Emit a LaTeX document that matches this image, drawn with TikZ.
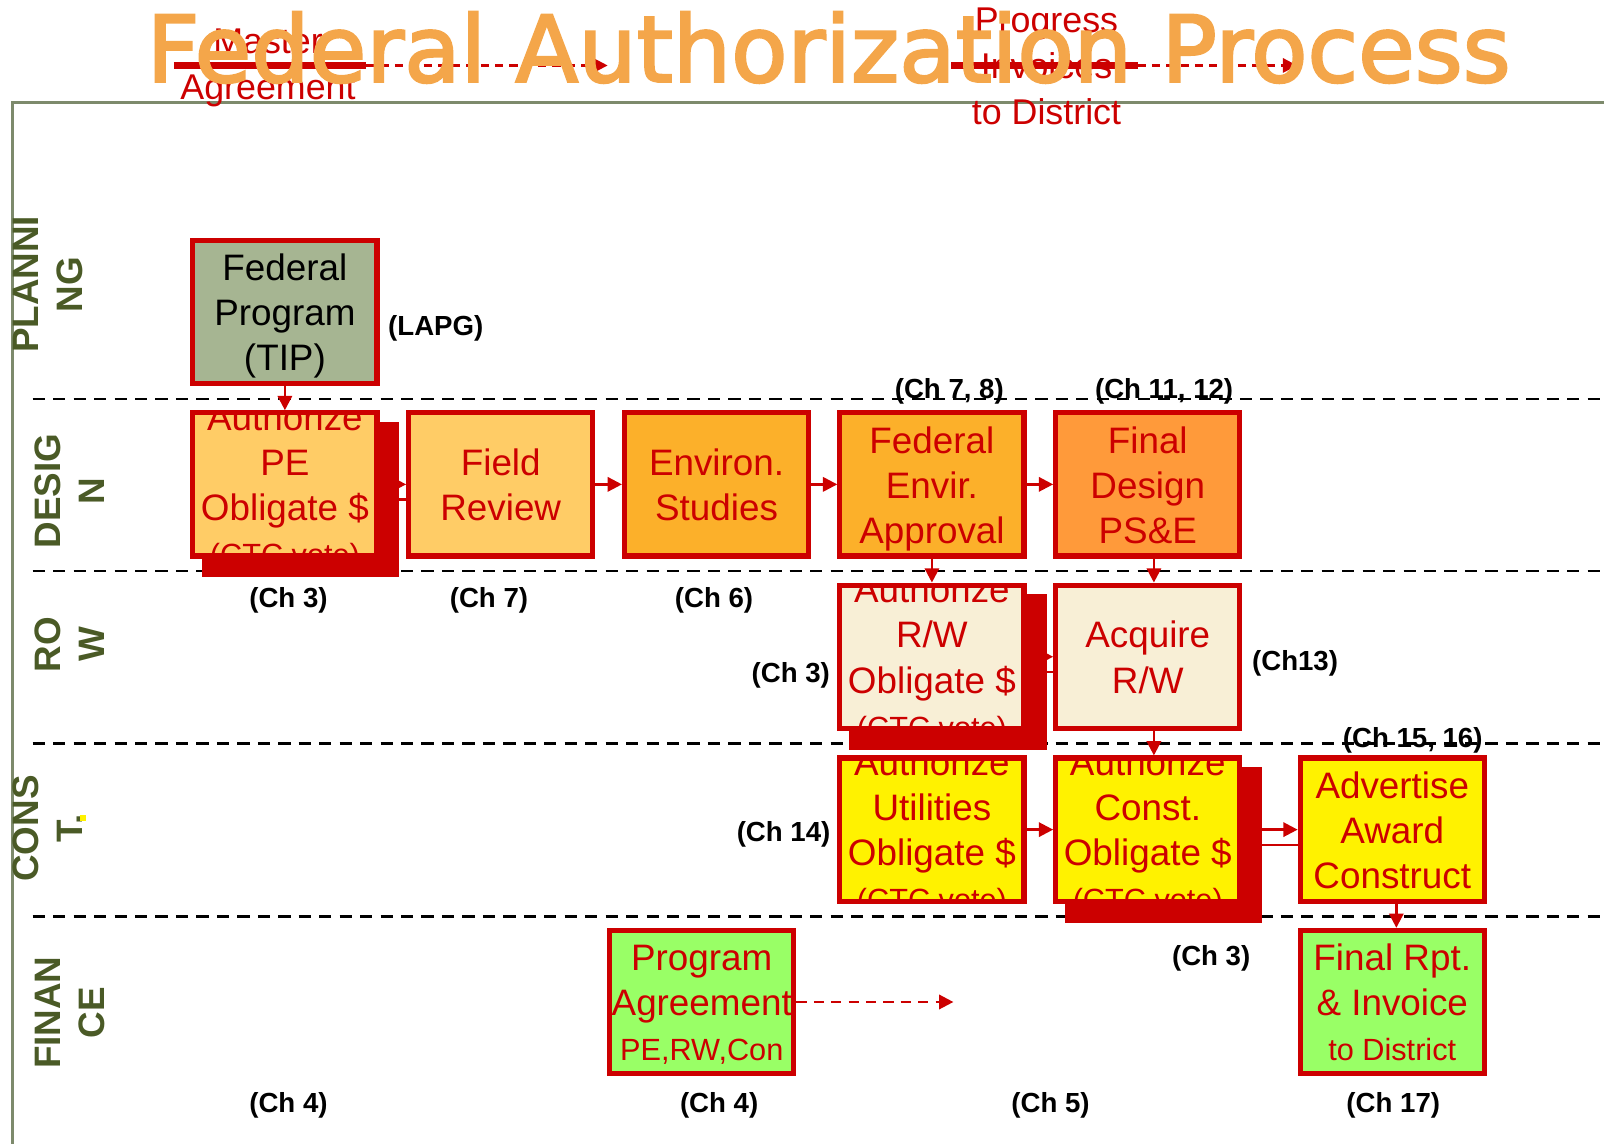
\documentclass[tikz,border=0pt]{standalone}
\usepackage{fontspec}
\setmainfont{Liberation Sans}
\newfontfamily\titlefont[FakeBold=2.5]{DejaVu Sans}
\usepackage{tikz}
\usepackage{xcolor}
\usetikzlibrary{calc}
\usetikzlibrary{arrows.meta}

\definecolor{boxred}{HTML}{CC0000}
\definecolor{sage}{HTML}{A6B592}
\definecolor{peach}{HTML}{FFCC66}
\definecolor{amber}{HTML}{FCB02A}
\definecolor{tangerine}{HTML}{FF9A3A}
\definecolor{cream}{HTML}{F8EFD6}
\definecolor{lime}{HTML}{99FF66}
\definecolor{olive}{HTML}{4A5A26}
\definecolor{framegreen}{HTML}{7D8A6C}
\definecolor{titleorange}{HTML}{F4A64A}

\pgfdeclarelayer{lanes}
\pgfdeclarelayer{shade}
\pgfsetlayers{lanes,shade,main}

\begin{document}
\begin{tikzpicture}[x=0.5pt, y=-0.5pt]

\tikzset{
    box/.style n args = {2}{
    draw=boxred, line width=2.5pt, inner sep=0pt,
    minimum width=90pt, minimum height=70pt,
    path picture={\node[boxtext, text=#1] at (path picture bounding box.center) {#2};}
    },
    boxtext/.style = {draw=none, fill=none, inner sep=0pt, align=center, yshift=-3.5pt,
    execute at begin node=\strut, execute at end node=\strut,
    font=\fontsize{18}{22}\selectfont}
}

\tikzstyle{lane}=[rotate=90, align=center, text=olive, font=\bfseries\fontsize{18}{21.5}\selectfont]
\tikzstyle{chap}=[yshift=-1.5pt, font=\bfseries\fontsize{13.5}{16}\selectfont]
\tikzstyle{topnote}=[align=center, text=boxred, font=\fontsize{17.5}{22.5}\selectfont]
\tikzstyle{arr}=[draw=boxred, line width=1.2pt, -{Triangle[length=7pt,width=7pt]}]
\tikzstyle{link}=[draw=boxred, line width=1.2pt]

\useasboundingbox (0,0) rectangle (1568,1118);

% lanes
\begin{pgfonlayer}{lanes}
\foreach \y in {390,558,727,896}
    \draw[black, line width=1.25pt, dash pattern=on 6pt off 4pt] (32,\y) -- (1568,\y);
\end{pgfonlayer}

\draw[framegreen, line width=1.5pt] (1568,100) -- (12,100) -- (12,1118);

\node (l-plan) [lane] at (47,278) {PLANNI\\NG};
\node (l-des) [lane] at (68,480) {DESIG\\N};
\node (l-row) [lane] at (68,630) {RO\\W};
\node (l-con) [lane] at (47,810) {CONS\\T.};
\node (l-fin) [lane] at (68,990) {FINAN\\CE};
\fill[yellow] (78,797) rectangle (84,803);

% boxes
\node (tip) [box={black}{Federal\\Program\\(TIP)}, fill=sage] at (278.5,305) {};

\node (pe) [box={boxred}{Authorize\\PE\\Obligate \$\\{\fontsize{15}{18}\selectfont (CTC vote)}}, fill=peach] at (278.5,473.5) {};
\node (fr) [box={boxred}{Field\\Review}, fill=peach] at (489.5,473.5) {};
\node (env) [box={boxred}{Environ.\\Studies}, fill=amber] at (700.5,473.5) {};
\node (fed) [box={boxred}{Federal\\Envir.\\Approval}, fill=amber] at (911,473.5) {};
\node (fin) [box={boxred}{Final\\Design\\PS\&E}, fill=tangerine] at (1122,473.5) {};

\node (rw) [box={boxred}{Authorize\\R/W\\Obligate \$\\{\fontsize{15}{18}\selectfont (CTC vote)}}, fill=cream] at (911,642) {};
\node (acq) [box={boxred}{Acquire\\R/W}, fill=cream] at (1122,642) {};

\node (util) [box={boxred}{Authorize\\Utilities\\Obligate \$\\{\fontsize{15}{18}\selectfont (CTC vote)}}, fill=yellow] at (911,811) {};
\node (con) [box={boxred}{Authorize\\Const.\\Obligate \$\\{\fontsize{15}{18}\selectfont (CTC vote)}}, fill=yellow] at (1122,811) {};
\node (adv) [box={boxred}{Advertise\\Award\\Construct}, fill=yellow] at (1361,811) {};

\node (pa) [box={boxred}{Program\\Agreement\\{\fontsize{15}{18}\selectfont PE,RW,Con}}, fill=lime] at (686,979.5) {};
\node (rpt) [box={boxred}{Final Rpt.\\\& Invoice\\{\fontsize{15}{18}\selectfont to District}}, fill=lime] at (1361,979.5) {};

\begin{pgfonlayer}{shade}
\foreach \b in {pe,rw,con}
    \fill[boxred] ([shift={(11.5,11.5)}]\b.north west) rectangle ([shift={(19.5,18.5)}]\b.south east);
\end{pgfonlayer}

% connectors
\draw[arr] (tip.south) -- (pe.north);
\draw[arr] ([shift={(19.5,0)}]pe.east) -- (fr.west);
\draw[link] ([shift={(19.5,15)}]pe.east) -- ([shift={(0,15)}]fr.west);
\draw[arr] (fr.east) -- (env.west);
\draw[arr] (env.east) -- (fed.west);
\draw[arr] (fed.east) -- (fin.west);
\draw[arr] (fed.south) -- (rw.north);
\draw[arr] ([shift={(6,0)}]fin.south) -- ([shift={(6,0)}]acq.north);
\draw[arr] ([shift={(19.5,0)}]rw.east) -- (acq.west);
\draw[link] ([shift={(19.5,15)}]rw.east) -- ([shift={(0,15)}]acq.west);
\draw[arr] ([shift={(6,0)}]acq.south) -- ([shift={(6,0)}]con.north);
\draw[arr] (util.east) -- (con.west);
\draw[arr] ([shift={(19.5,0)}]con.east) -- (adv.west);
\draw[link] ([shift={(19.5,15)}]con.east) -- ([shift={(0,15)}]adv.west);
\draw[arr] ([shift={(4,0)}]adv.south) -- ([shift={(4,0)}]rpt.north);
\coordinate (pa-end) at (932,979.5);
\draw[arr, dash pattern=on 5pt off 3.5pt] (pa.east) -- (pa-end);

% chapters
\node (c-lapg) [chap] at (426,318) {(LAPG)};
\node (c-78) [chap] at (928,380) {(Ch 7, 8)};
\node (c-1112) [chap] at (1138,380) {(Ch 11, 12)};
\node (c-pe) [chap] at (282,584) {(Ch 3)};
\node (c-fr) [chap] at (478,584) {(Ch 7)};
\node (c-env) [chap] at (698,584) {(Ch 6)};
\node (c-rw) [chap] at (773,657) {(Ch 3)};
\node (c-acq) [chap] at (1266,645) {(Ch13)};
\node (c-adv) [chap] at (1381,721) {(Ch 15, 16)};
\node (c-util) [chap] at (766,813) {(Ch 14)};
\node (c-con) [chap] at (1184,934) {(Ch 3)};
\node (c-f1) [chap] at (282,1078) {(Ch 4)};
\node (c-pa) [chap] at (703,1078) {(Ch 4)};
\node (c-f3) [chap] at (1027,1078) {(Ch 5)};
\node (c-rpt) [chap] at (1362,1078) {(Ch 17)};

% top notes
\node (ma) [topnote] at (262,66) {Master\\Agreement};
\node (pi) [topnote] at (1023,65) {Progress\\Invoices\\to District};
\coordinate (ma-a) at (170,64);
\coordinate (ma-b) at (358,64);
\coordinate (ma-c) at (594,64);
\coordinate (pi-a) at (930,64);
\coordinate (pi-b) at (1112,64);
\coordinate (pi-c) at (1268,64);
\draw[boxred, line width=3pt] (ma-a) -- (ma-b);
\draw[arr, dash pattern=on 4pt off 3pt] (ma-b) -- (ma-c);
\draw[boxred, line width=3pt] (pi-a) -- (pi-b);
\draw[arr, dash pattern=on 4pt off 3pt] (pi-b) -- (pi-c);

\node (title) [anchor=base, text=titleorange, font=\titlefont\fontsize{45}{50}\selectfont] at (810,80) {Federal Authorization Process};

\end{tikzpicture}
\end{document}
